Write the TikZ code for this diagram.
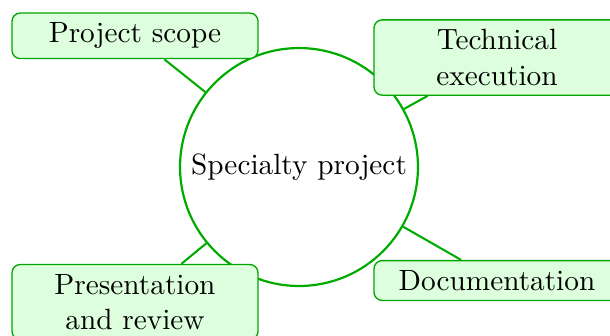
\documentclass[tikz,border=0pt]{standalone}
\begin{document}
\begin{tikzpicture}[x=0.3413pt,y=-0.3413pt,
  hub/.style={circle,draw=green!67!black,line width=0.75pt,fill=white,minimum size=81.2pt,inner sep=0pt},
  topic/.style={rectangle,rounded corners=2.8pt,draw=green!65!black,line width=0.45pt,fill=green!13,
    text width=77.3pt,align=center,inner sep=3.33pt},
  link/.style={draw=green!67!black,line width=0.7pt}]
\useasboundingbox (0,0) rectangle (610,335);
\node[hub] (c) at (299,167) {Specialty project};
\node[topic] (ps) at (135,35.8) {Project scope};
\node[topic] (te) at (497,57.5) {Technical\\execution};
\node[topic] (doc) at (497,280.5) {Documentation};
\node[topic] (pr) at (135,302) {Presentation\\and review};
\draw[link] (c) -- (ps);
\draw[link] (c) -- (te);
\draw[link] (c) -- (doc);
\draw[link] (c) -- (pr);
\end{tikzpicture}
\end{document}
